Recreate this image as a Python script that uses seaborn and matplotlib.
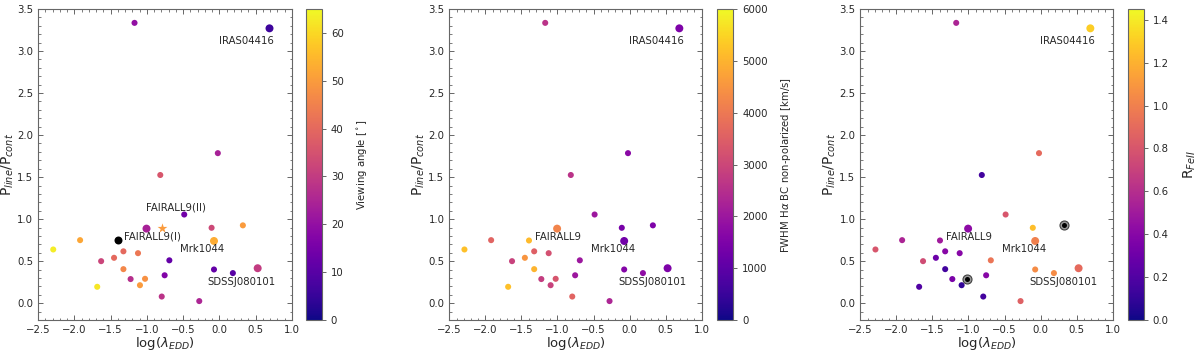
import numpy as np
import pandas as pd
import matplotlib
matplotlib.use("Agg")
import matplotlib.pyplot as plt
import seaborn as sns
from matplotlib.ticker import MultipleLocator
from matplotlib.colors import Normalize
from matplotlib.cm import ScalarMappable

# ---- data ----
log_edd = [-1.17, 0.69, -0.022, -0.815, -0.485, -1.005, -0.108, 0.323, -1.395, -0.075,
           -1.92, -2.29, -1.323, -1.122, -1.452, -1.630, -0.690, -1.323, -0.075, 0.185,
           0.527, -1.224, -1.025, -0.755, -1.684, -1.095, -0.795, -0.278]
p_ratio = [3.335, 3.27, 1.785, 1.525, 1.055, 0.887, 0.897, 0.926, 0.746, 0.740,
           0.750, 0.639, 0.617, 0.595, 0.540, 0.500, 0.510, 0.405, 0.401, 0.358,
           0.416, 0.287, 0.290, 0.332, 0.195, 0.214, 0.079, 0.025]
view_angle = [20, 6, 24, 36, 14, 24, 33, 50, np.nan, 53,
              52, 63, 40, 43, 40, 32, 12, 46, 12, 10,
              30, 27, 48, 17, 62, 50, 28, 25]
fwhm = [2600, 1500, 1700, 2600, 2000, 4200, 1400, 1500, 5100, 1300,
        3600, 5200, 3500, 3200, 4500, 2900, 2000, 5000, 1600, 1800,
        1500, 2800, 3300, 2000, 5200, 2900, 3600, 2300]
r_fe = [0.55, 1.30, 0.90, 0.15, 0.80, 0.42, 1.25, np.nan, 0.50, 1.00,
        0.55, 0.80, 0.40, 0.40, 0.30, 0.75, 0.95, 0.15, 1.05, 1.05,
        0.90, 0.35, np.nan, 0.40, 0.20, 0.10, 0.15, 0.85]
big = ["big" if b else "small" for b in
       [0, 1, 0, 0, 0, 1, 0, 0, 0, 1, 0, 0, 0, 0, 0, 0, 0, 0, 0, 0, 1, 0, 0, 0, 0, 0, 0, 0]]

# FAIRALL9 epochs in panel 1
f9_star_x, f9_star_y, f9_star_angle = -0.795, 0.889, 50
f9_black_x, f9_black_y = -1.395, 0.746

labels1 = ["IRAS04416", "FAIRALL9(II)", "FAIRALL9(I)", "Mrk1044", "SDSSJ080101"]
labels1_x = [0.366, -0.599, -0.917, -0.235, 0.304]
labels1_y = [3.123, 1.141, 0.797, 0.646, 0.258]
labels2 = ["IRAS04416", "FAIRALL9", "Mrk1044", "SDSSJ080101"]
labels2_x = [0.37, -0.988, -0.230, 0.313]
labels2_y = [3.12, 0.786, 0.639, 0.254]

df = pd.DataFrame({"x": log_edd, "y": p_ratio, "angle": view_angle,
                   "fwhm": fwhm, "rfe": r_fe, "size": big})

sns.set_style("ticks")
plt.rcParams["font.family"] = ["DejaVu Sans"]

fig = plt.figure(figsize=(12, 3.52), dpi=100)
H = 1 - 9 / 352 - 32 / 352
B = 32 / 352
ax_pos = [(38 / 1200, 254 / 1200), (449.3 / 1200, 252.4 / 1200), (860.3 / 1200, 252.4 / 1200)]
cb_pos = [306 / 1200, 717.3 / 1200, 1128 / 1200]
cbw = 15.8 / 1200

sizes = {"small": 19, "big": 33}
cmap = "plasma"
gray = "0.4"
FS_TICK = 7.3
FS_TXT = 7.3

def style_axis(ax):
    ax.set_xlim(-2.5, 1.0)
    ax.set_ylim(-0.2, 3.5)
    ax.xaxis.set_major_locator(MultipleLocator(0.5))
    ax.yaxis.set_major_locator(MultipleLocator(0.5))
    ax.xaxis.set_minor_locator(MultipleLocator(0.1))
    ax.yaxis.set_minor_locator(MultipleLocator(0.1))
    ax.tick_params(which="both", direction="in", top=True, right=True, color=gray, labelsize=FS_TICK)
    ax.tick_params(which="major", length=3.5, width=0.7)
    ax.tick_params(which="minor", length=1.8, width=0.6)
    for sp in ax.spines.values():
        sp.set_color(gray)
        sp.set_linewidth(0.8)
    ax.set_xlabel(r"log($\lambda_{EDD}$)", fontsize=9.5, labelpad=0)
    ax.set_ylabel(r"P$_{line}$/P$_{cont}$", fontsize=10, labelpad=1)

def add_cbar(left, vmax, label, ticks, fs=7.3, pad=8):
    cax = fig.add_axes([left, B, cbw, H])
    sm = ScalarMappable(norm=Normalize(0, vmax), cmap=cmap)
    cb = fig.colorbar(sm, cax=cax)
    cb.set_ticks(ticks)
    cb.outline.set_edgecolor(gray)
    cb.outline.set_linewidth(0.8)
    cax.tick_params(labelsize=FS_TICK, length=3, width=0.7, color=gray)
    cb.set_label(label, fontsize=fs, labelpad=pad)
    return cb

# Panel 1: viewing angle
ax1 = fig.add_axes([ax_pos[0][0], B, ax_pos[0][1], H])
d1 = df[df["angle"].notna()]
sns.scatterplot(data=d1, x="x", y="y", hue="angle", palette=cmap, hue_norm=(0, 65),
                size="size", sizes=sizes, linewidth=0, legend=False, ax=ax1)
ax1.scatter([f9_black_x], [f9_black_y], s=33, color="black", linewidths=0, zorder=3)
ax1.scatter([f9_star_x], [f9_star_y], s=55, marker="*",
            color=plt.get_cmap(cmap)(f9_star_angle / 65), linewidths=0, zorder=3)
for t, tx, ty in zip(labels1, labels1_x, labels1_y):
    ax1.text(tx, ty, t, ha="center", va="center", fontsize=FS_TXT)
style_axis(ax1)
add_cbar(cb_pos[0], 65, r"Viewing angle [$^\circ$]", np.arange(0, 61, 10))

# Panel 2: FWHM
ax2 = fig.add_axes([ax_pos[1][0], B, ax_pos[1][1], H])
sns.scatterplot(data=df, x="x", y="y", hue="fwhm", palette=cmap, hue_norm=(0, 6000),
                size="size", sizes=sizes, linewidth=0, legend=False, ax=ax2)
for t, tx, ty in zip(labels2, labels2_x, labels2_y):
    ax2.text(tx, ty, t, ha="center", va="center", fontsize=FS_TXT)
style_axis(ax2)
add_cbar(cb_pos[1], 6000, r"FWHM H$\alpha$ BC non-polarized [km/s]", np.arange(0, 6001, 1000))

# Panel 3: R_FeII
ax3 = fig.add_axes([ax_pos[2][0], B, ax_pos[2][1], H])
d3 = df[df["rfe"].notna()]
dn = df[df["rfe"].isna()]
sns.scatterplot(data=d3, x="x", y="y", hue="rfe", palette=cmap, hue_norm=(0, 1.45),
                size="size", sizes=sizes, linewidth=0, legend=False, ax=ax3)
ax3.scatter(dn["x"], dn["y"], s=42, facecolor="0.6", edgecolor="0.25", linewidths=0.8, zorder=3)
ax3.scatter(dn["x"], dn["y"], s=13, color="black", linewidths=0, zorder=4)
for t, tx, ty in zip(labels2, labels2_x, labels2_y):
    ax3.text(tx, ty, t, ha="center", va="center", fontsize=FS_TXT)
style_axis(ax3)
add_cbar(cb_pos[2], 1.45, r"R$_{FeII}$", np.arange(0, 1.41, 0.2), fs=10, pad=9)

fig.savefig("out.png", dpi=100)
